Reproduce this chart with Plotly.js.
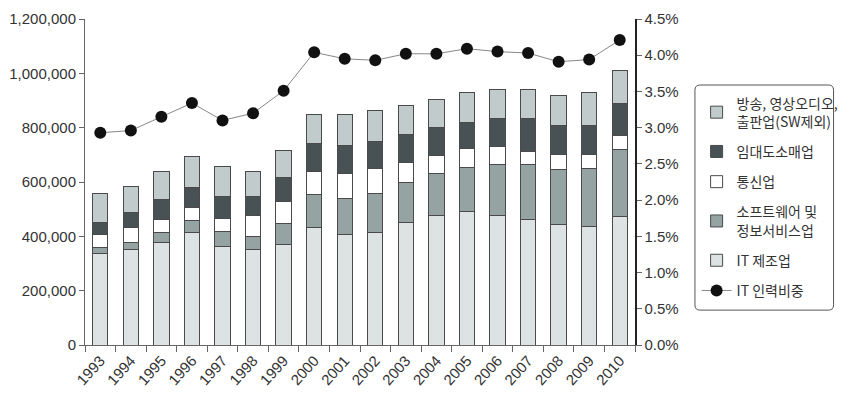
<!DOCTYPE html>
<html><head><meta charset="utf-8">
<script src="https://cdn.plot.ly/plotly-3.0.1.min.js"></script>
<style>body{margin:0;background:#fff}#c{width:856px;height:406px}</style>
</head><body><div id="c"></div>
<script>
const years = ['1993','1994','1995','1996','1997','1998','1999','2000','2001','2002','2003','2004','2005','2006','2007','2008','2009','2010'];
const itManufacturing = [337000,353000,378000,415000,364000,350000,371000,433000,407000,415000,452000,477000,492000,477000,463000,444000,437000,472000];
const softwareInfo    = [22000,25000,37000,44000,54000,50000,75000,120000,133000,144000,145000,156000,163000,188000,202000,202000,211000,248000];
const telecom         = [48000,54000,46000,48000,48000,77000,84000,84000,92000,92000,73000,63000,67000,65000,49000,55000,54000,52000];
const wholesale       = [43000,57000,74000,74000,80000,70000,87000,103000,102000,99000,104000,103000,97000,102000,118000,107000,107000,118000];
const broadcast       = [108000,94000,102000,112000,112000,92000,98000,107000,113000,115000,109000,103000,110000,107000,107000,110000,121000,119000];
const itShare         = [2.93,2.96,3.15,3.34,3.10,3.20,3.51,4.04,3.95,3.93,4.02,4.02,4.09,4.05,4.03,3.91,3.94,4.21];
const shareTicks      = [0,0.5,1,1.5,2,2.5,3,3.5,4,4.5];
const shareTickText   = ['0.0%','0.5%','1.0%','1.5%','2.0%','2.5%','3.0%','3.5%','4.0%','4.5%'];

const names = {
  broadcast: '방송, 영상오디오,<br>출판업(SW제외)',
  wholesale: '임대도소매업',
  telecom: '통신업',
  software: '소프트웨어 및<br>정보서비스업',
  manuf: 'IT 제조업',
  share: 'IT 인력비중'
};

const lineCol = '#4a4a4a';
function bar(y, name, color, rank){
  return {type:'bar', x:years, y:y, name:name, legendrank:rank, legendgroup:'g'+rank, width:0.5,
    marker:{color:color, line:{color:lineCol, width:1}}, hoverinfo:'skip'};
}
const traces = [
  bar(itManufacturing, names.manuf, '#dde3e3', 5),
  bar(softwareInfo, names.software, '#95a3a3', 4),
  bar(telecom, names.telecom, '#ffffff', 3),
  bar(wholesale, names.wholesale, '#485154', 2),
  bar(broadcast, names.broadcast, '#c2cbcb', 1),
  {type:'scatter', mode:'lines+markers', x:years, y:itShare, yaxis:'y2', name:names.share, legendrank:6, legendgroup:'g6',
   line:{color:'#888', width:1}, marker:{color:'#111', size:12}}
];

// rounded legend frame (paper coordinates)
const x0 = 1.109, x1 = 1.361, y0 = 0.107, y1 = 0.7975, rx = 0.009, ry = 0.016;
const framePath = `M ${x0+rx},${y1} L ${x1-rx},${y1} Q ${x1},${y1} ${x1},${y1-ry} L ${x1},${y0+ry} Q ${x1},${y0} ${x1-rx},${y0} L ${x0+rx},${y0} Q ${x0},${y0} ${x0},${y0+ry} L ${x0},${y1-ry} Q ${x0},${y1} ${x0+rx},${y1} Z`;

const fnt = {family:'Liberation Sans, sans-serif', size:15, color:'#333'};
const layout = {
  width:856, height:406,
  margin:{l:85, r:211, t:19, b:61},
  paper_bgcolor:'#fff', plot_bgcolor:'#fff',
  barmode:'stack',
  font:fnt,
  showlegend:true,
  legend:{x:1.112, xanchor:'left', y:0.79, yanchor:'top', traceorder:'grouped',
    borderwidth:0, bgcolor:'rgba(0,0,0,0)',
    font:{family:'Noto Sans CJK KR, sans-serif', size:14, color:'#333'},
    itemwidth:30, tracegroupgap:9},
  shapes:[{type:'path', xref:'paper', yref:'paper', path:framePath, line:{color:'#555', width:1}, fillcolor:'rgba(0,0,0,0)', layer:'below'}],
  xaxis:{type:'category', tickangle:-48, showline:true, linecolor:'#666', linewidth:1,
    ticks:'outside', ticklen:6, tickcolor:'#666', tickson:'boundaries', showgrid:false,
    tickfont:fnt, range:[-0.5,17.5]},
  yaxis:{range:[0,1200000], tickvals:[0,200000,400000,600000,800000,1000000,1200000], tickformat:',d',
    showline:true, linecolor:'#666', linewidth:1, ticks:'outside', ticklen:5, tickcolor:'#666',
    showgrid:false, zeroline:false, tickfont:fnt},
  yaxis2:{overlaying:'y', side:'right', range:[0,4.5], tickmode:'array', tickvals:shareTicks, ticktext:shareTickText,
    showline:true, linecolor:'#222', linewidth:1.5,
    ticks:'outside', ticklen:5, tickcolor:'#666', showgrid:false, zeroline:false, tickfont:fnt}
};
Plotly.newPlot('c', traces, layout, {staticPlot:true});
</script></body></html>
